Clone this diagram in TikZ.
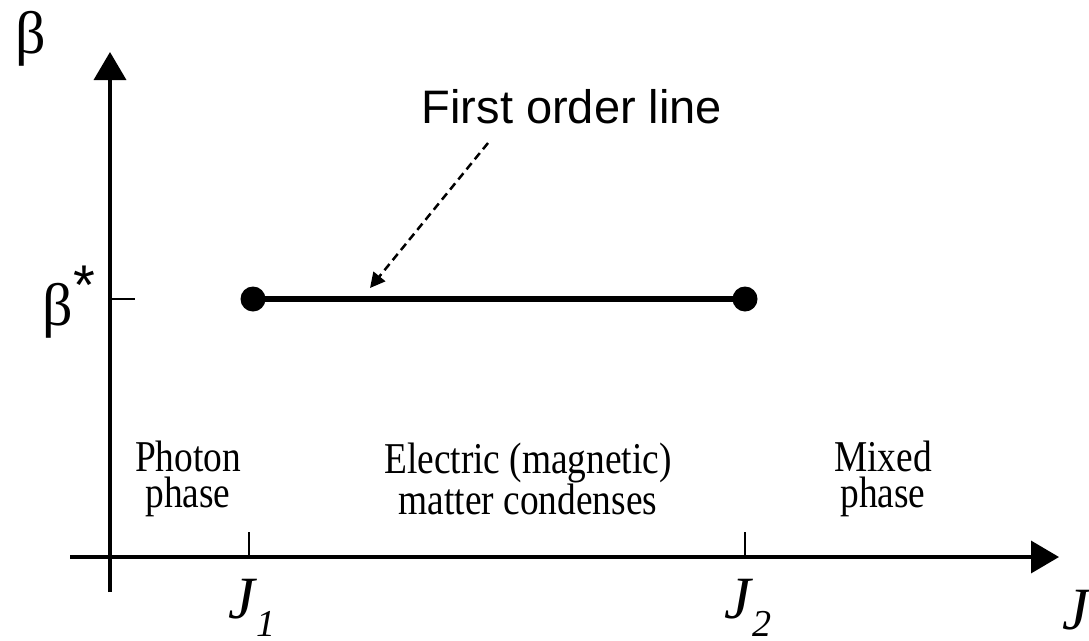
\documentclass[tikz,border=0pt]{standalone}
\usepackage{fontspec}
\setmainfont{Liberation Serif}
\newfontfamily\labelfont{Liberation Sans}
\newfontfamily\regionfont[FakeStretch=0.85]{Liberation Serif}
\usetikzlibrary{arrows.meta,positioning}

\newcommand\jsub[1]{\textit{J}\raisebox{-0.3em}{\fontsize{38}{38}\selectfont\textit{#1}}}

\begin{document}
\begin{tikzpicture}
  [
  x=1pt, y=-1pt,
  axisline/.style={line width=3.5pt, -{Triangle[width=32pt,length=28pt]}},
  tickmark/.style={line width=2.5pt},
  endpoint/.style={circle, fill, inner sep=0pt, minimum size=25pt},
  region/.style={align=center, font=\regionfont\fontsize{44}{36}\selectfont},
  axislabel/.style={font=\fontsize{60}{60}\selectfont, inner sep=0pt}
  ]
  \useasboundingbox (0,0) rectangle (1089,640);
  % axes
  \coordinate (ybot) at (110,592);
  \coordinate (ytop) at (110,52);
  \coordinate (xleft) at (70,557);
  \coordinate (xright) at (1059,557);
  \draw[axisline] (ybot) -- (ytop);
  \draw[axisline] (xleft) -- (xright);
  % ticks
  \coordinate (bstar) at (110,299);
  \coordinate (bstartick) at (135,299);
  \draw[tickmark] (bstar) -- (bstartick);
  \coordinate (jonebase) at (249,557);
  \coordinate (jonetop) at (249,532);
  \coordinate (jtwobase) at (745,557);
  \coordinate (jtwotop) at (745,532);
  \draw[tickmark] (jonebase) -- (jonetop);
  \draw[tickmark] (jtwobase) -- (jtwotop);
  % first order line
  \node[endpoint] (jonedot) at (253,299) {};
  \node[endpoint] (jtwodot) at (745,299) {};
  \draw[line width=6pt] (jonedot.center) -- (jtwodot.center);
  \node[font=\labelfont\fontsize{47}{47}\selectfont] (linelab) at (572,107) {First order line};
  \coordinate (linehit) at (370,288);
  \draw[line width=2.5pt, dash pattern=on 8pt off 5pt, -{Triangle[width=15pt,length=15pt]}]
    (488,143) -- (linehit);
  % axis labels
  \node[axislabel] (betalab) at (31,39) {β};
  \node[axislabel, anchor=east] (betastarlab) at (95,302)
    {β\raisebox{0.35em}{\fontsize{56}{56}\selectfont\labelfont *}};
  \node[axislabel] (jonelab) at (252,608) {\jsub{1}};
  \node[axislabel] (jtwolab) at (748,608) {\jsub{2}};
  \node[axislabel, anchor=west] (jlab) at (1062,610) {\textit{J}};
  % regions
  \node[region] (photon) at (188,479) {Photon\\phase};
  \node[region] (electric) at (528,479) {Electric (magnetic)\\matter condenses};
  \node[region] (mixed) at (883,479) {Mixed\\phase};
\end{tikzpicture}
\end{document}
